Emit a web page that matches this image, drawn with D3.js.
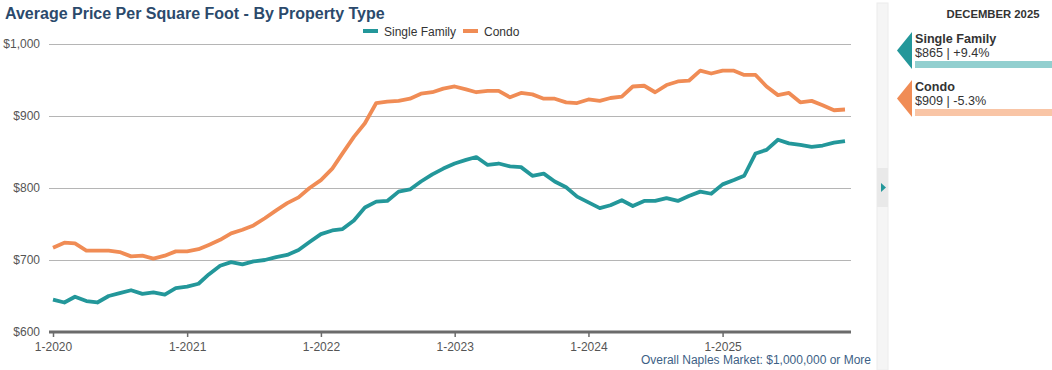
<!DOCTYPE html>
<html>
<head>
<meta charset="utf-8">
<script src="https://cdn.jsdelivr.net/npm/d3@7"></script>
<style>
  body { margin: 0; background: #fff; font-family: "Liberation Sans", Arial, sans-serif; }
  svg text { font-family: "Liberation Sans", Arial, sans-serif; }
  .axis text { fill: #555; font-size: 12px; }
</style>
</head>
<body>
<svg id="chart" width="1052" height="370"></svg>
<script>
// monthly, Jan 2020 .. Dec 2025
const startMonth = '2020-01';
const singleFamily = [
  645, 641, 649, 643, 641, 650, 654, 658, 653, 655, 652, 661,
  663, 667, 680, 692, 697, 694, 698, 700, 704, 707, 714, 725,
  736, 741, 743, 755, 773, 781, 782, 795, 798, 809, 819, 827,
  834, 839, 843, 832, 834, 830, 829, 817, 820, 809, 801, 788,
  780, 772, 776, 783, 775, 782, 782, 786, 782, 789, 795, 792,
  805, 811, 817, 848, 853, 867, 862, 860, 857, 859, 863, 865
];
const condo = [
  717, 724, 723, 713, 713, 713, 711, 705, 706, 702, 706, 712,
  712, 715, 721, 728, 737, 742, 748, 758, 769, 779, 787, 800,
  811, 827, 848, 871, 890, 918, 920, 921, 924, 931, 933, 938,
  941, 937, 933, 935, 935, 926, 932, 930, 924, 924, 919, 918,
  923, 921, 925, 927, 941, 942, 933, 943, 948, 949, 963, 959,
  963, 963, 957, 957, 941, 929, 932, 919, 921, 915, 908, 909
];
const seriesNames = ['Single Family', 'Condo'];
const seriesColors = ['#23979a', '#f08c55'];
const barColors = ['#92cfcf', '#f9c5a6'];
const yTicks = [600, 700, 800, 900, 1000];
const panelTitle = 'DECEMBER 2025';
const panelLines = ['$865 | +9.4%', '$909 | -5.3%'];
const footnote = 'Overall Naples Market: $1,000,000 or More';
const chartTitle = 'Average Price Per Square Foot - By Property Type';

const svg = d3.select('#chart');
const parse = d3.timeParse('%Y-%m');
const t0 = parse(startMonth);
const months = singleFamily.map((d, i) => d3.timeMonth.offset(t0, i));

const x = d3.scaleTime()
  .domain([months[0], months[months.length - 1]])
  .range([53, 845]);
const y = d3.scaleLinear()
  .domain([600, 1000])
  .range([332, 44]);

// title
svg.append('text')
  .attr('x', 5)
  .attr('y', 19)
  .attr('fill', '#2b4a6c')
  .attr('font-size', 16)
  .attr('font-weight', 'bold')
  .text(chartTitle);

// grid + y labels
const yAxis = d3.axisLeft(y)
  .tickValues(yTicks)
  .tickSize(0)
  .tickPadding(9)
  .tickFormat(d3.format('$,'));
const gy = svg.append('g')
  .attr('class', 'axis')
  .attr('transform', 'translate(49,0)')
  .call(yAxis);
gy.select('.domain').remove();
gy.selectAll('.tick')
  .filter(d => d !== 600)
  .append('line')
  .attr('x1', 0)
  .attr('x2', 802)
  .attr('stroke', '#b5b5b5');

// x axis
const xAxis = d3.axisBottom(x)
  .ticks(d3.timeYear.every(1))
  .tickSize(5)
  .tickPadding(5)
  .tickFormat(d3.timeFormat('%-m-%Y'));
const gx = svg.append('g')
  .attr('class', 'axis')
  .attr('transform', `translate(0,${y(600)})`)
  .call(xAxis);
gx.select('.domain')
  .attr('d', 'M49,0H851')
  .attr('stroke', '#6b6b6b')
  .attr('stroke-width', 3);
gx.selectAll('.tick line').attr('stroke', '#6b6b6b').attr('stroke-width', 1.5);

// lines
const line = d3.line()
  .x((d, i) => x(months[i]))
  .y(d => y(d));
[singleFamily, condo].forEach((vals, k) => {
  svg.append('path')
    .datum(vals)
    .attr('fill', 'none')
    .attr('stroke', seriesColors[k])
    .attr('stroke-width', 3.8)
    .attr('stroke-linejoin', 'round')
    .attr('d', line);
});

// legend
const legendX = [363, 463];
seriesNames.forEach((name, k) => {
  const lg = svg.append('g').attr('transform', `translate(${legendX[k]},31)`);
  lg.append('line')
    .attr('x1', 0).attr('x2', 15)
    .attr('stroke', seriesColors[k])
    .attr('stroke-width', 4);
  lg.append('text')
    .attr('x', 21)
    .attr('y', 4.5)
    .attr('fill', '#333')
    .attr('font-size', 12)
    .text(name);
});

// footnote
svg.append('text')
  .attr('x', 871)
  .attr('y', 364)
  .attr('text-anchor', 'end')
  .attr('fill', '#3d5f86')
  .attr('font-size', 12)
  .text(footnote);

// collapse strip
svg.append('rect')
  .attr('x', 877).attr('y', 3)
  .attr('width', 11).attr('height', 367)
  .attr('fill', '#f5f5f5')
  .attr('stroke', '#ececec');
svg.append('rect')
  .attr('x', 877).attr('y', 168)
  .attr('width', 11).attr('height', 39)
  .attr('fill', '#e9e9e9');
svg.append('path')
  .attr('d', 'M881,183L886,187.5L881,192Z')
  .attr('fill', seriesColors[0]);

// side panel
svg.append('text')
  .attr('x', 993)
  .attr('y', 18)
  .attr('text-anchor', 'middle')
  .attr('fill', '#333')
  .attr('font-size', 11.3)
  .attr('font-weight', 'bold')
  .text(panelTitle);

seriesNames.forEach((name, k) => {
  const top = 32 + k * 48;
  const g = svg.append('g').attr('transform', `translate(0,${top})`);
  g.append('path')
    .attr('d', 'M912,0L897,18.5L912,37Z')
    .attr('fill', seriesColors[k]);
  g.append('text')
    .attr('x', 915).attr('y', 11)
    .attr('fill', '#333')
    .attr('font-size', 12.6)
    .attr('font-weight', 'bold')
    .text(name);
  g.append('text')
    .attr('x', 915).attr('y', 25)
    .attr('fill', '#333')
    .attr('font-size', 12.6)
    .text(panelLines[k]);
  g.append('rect')
    .attr('x', 915).attr('y', 29)
    .attr('width', 137).attr('height', 7)
    .attr('fill', barColors[k]);
});
</script>
</body>
</html>
